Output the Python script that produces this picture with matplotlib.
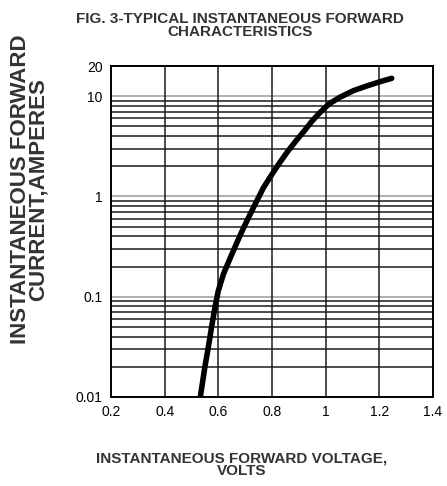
import matplotlib
matplotlib.use('Agg')

import matplotlib.pyplot as plt

# === data ===
volts = [0.533, 0.535, 0.550, 0.563, 0.575, 0.588, 0.600, 0.619, 0.644, 0.668, 0.693,
         0.718, 0.743, 0.768, 0.799, 0.830, 0.860, 0.890, 0.920, 0.948, 0.975,
         1.000, 1.016, 1.053, 1.103, 1.153, 1.203, 1.246]
amps = [0.0100, 0.0109, 0.0201, 0.0317, 0.0502, 0.0796, 0.115, 0.168, 0.242, 0.341, 0.48,
        0.66, 0.90, 1.22, 1.65, 2.20, 2.85, 3.60, 4.50, 5.60, 6.70,
        7.80, 8.49, 9.75, 11.34, 12.64, 13.95, 15.07]

x_ticks = [0.2, 0.4, 0.6, 0.8, 1.0, 1.2, 1.4]
x_labels = ['0.2', '0.4', '0.6', '0.8', '1', '1.2', '1.4']
y_ticks = [0.01, 0.1, 1, 10, 20]
y_labels = ['0.01', '0.1', '1', '10', '20']

plt.rcParams['font.family'] = ['Liberation Sans', 'DejaVu Sans']

fig = plt.figure(figsize=(4.47, 4.86), dpi=100)
ax = fig.add_axes([111 / 447, 89 / 486, 322 / 447, 331 / 486])

ax.set_yscale('log')
ax.set_xlim(0.2, 1.4)
ax.set_ylim(0.01, 20)

# grid: decade lines grey, others black
for dec in [0.01, 0.1, 1]:
    for k in range(2, 10):
        ax.axhline(dec * k, color='#1a1a1a', lw=1.1, zorder=1)
for dec in [0.1, 1, 10]:
    ax.axhline(dec, color='#9a9a9a', lw=1.1, zorder=1)
for xv in x_ticks[1:-1]:
    ax.axvline(xv, color='#1a1a1a', lw=1.1, zorder=1)

ax.plot(volts, amps, color='black', lw=4, solid_capstyle='round',
        solid_joinstyle='round', zorder=3)

ax.set_xticks(x_ticks)
ax.set_xticklabels(x_labels, fontsize=10)
ax.set_yticks(y_ticks)
ax.set_yticklabels(y_labels, fontsize=10)
ax.yaxis.set_minor_locator(matplotlib.ticker.NullLocator())
ax.tick_params(length=0, pad=6)
for s in ax.spines.values():
    s.set_linewidth(1.4)
    s.set_color('black')

fig.text(0.537, 0.975, 'FIG. 3-TYPICAL INSTANTANEOUS FORWARD\nCHARACTERISTICS',
         ha='center', va='top', fontsize=11, fontweight='bold', color='#333333',
         linespacing=0.92)
fig.text(0.540, 0.072, 'INSTANTANEOUS FORWARD VOLTAGE,\nVOLTS',
         ha='center', va='top', fontsize=11, fontweight='bold', color='#333333',
         linespacing=0.92)
fig.text(0.065, 0.61, 'INSTANTANEOUS FORWARD\nCURRENT,AMPERES',
         ha='center', va='center', rotation=90, fontsize=16, fontweight='bold',
         color='#333333', linespacing=0.8)

fig.savefig('out.png', dpi=100)
